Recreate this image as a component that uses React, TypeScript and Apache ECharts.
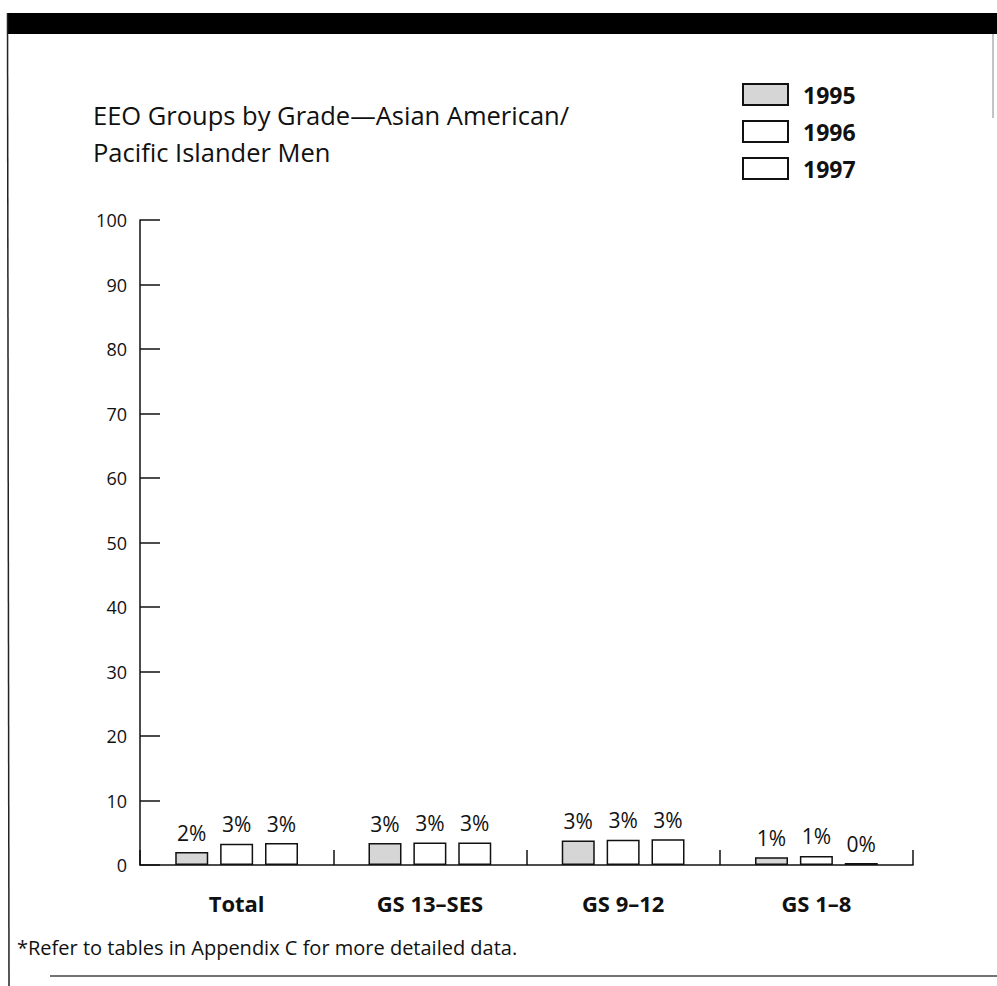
import React, { useEffect, useRef } from "react";
import * as echarts from "echarts";

const categories = ["Total", "GS 13–SES", "GS 9–12", "GS 1–8"];
const years = ["1995", "1996", "1997"];
const values1995 = [2.0, 3.4, 3.8, 1.2];
const values1996 = [3.3, 3.5, 3.9, 1.4];
const values1997 = [3.4, 3.5, 4.0, 0.3];
const labels1995 = ["2%", "3%", "3%", "1%"];
const labels1996 = ["3%", "3%", "3%", "1%"];
const labels1997 = ["3%", "3%", "3%", "0%"];
const yTicks = { min: 0, max: 100, interval: 10 };

const FONT = "'Open Sans', Lato, sans-serif";

export default function App() {
  const ref = useRef<HTMLDivElement>(null);
  useEffect(() => {
    if (!ref.current) return;
    const chart = echarts.init(ref.current, undefined, { renderer: "svg" });
    const fills = ["#d6d6d6", "#ffffff", "#ffffff"];
    const seriesData = [values1995, values1996, values1997];
    const seriesLabels = [labels1995, labels1996, labels1997];
    chart.setOption({
      animation: false,
      backgroundColor: "#ffffff",
      textStyle: { fontFamily: FONT },
      grid: { left: 140, top: 220, width: 773, height: 645, containLabel: false },
      legend: {
        orient: "vertical",
        left: 737,
        top: 78,
        itemWidth: 45,
        itemHeight: 21,
        itemGap: 14,
        icon: "rect",
        data: years,
        textStyle: { fontFamily: FONT, fontSize: 23, fontWeight: "bold", color: "#111", padding: [0, 0, 0, 10] },
      },
      xAxis: {
        type: "category",
        data: categories,
        boundaryGap: true,
        axisLine: { show: true, lineStyle: { color: "#111", width: 1.5 } },
        axisTick: { show: true, inside: true, length: 15, interval: 0, lineStyle: { color: "#111", width: 1.5 } },
        axisLabel: { margin: 27, fontFamily: FONT, fontSize: 22, fontWeight: "bold", color: "#111" },
        splitLine: { show: false },
      },
      yAxis: {
        type: "value",
        min: yTicks.min,
        max: yTicks.max,
        interval: yTicks.interval,
        axisLine: { show: true, lineStyle: { color: "#111", width: 1.5 } },
        axisTick: { show: true, inside: true, length: 20, lineStyle: { color: "#111", width: 1.5 } },
        axisLabel: { margin: 13, fontFamily: FONT, fontSize: 18, color: "#111" },
        splitLine: { show: false },
      },
      series: years.map((y, i) => ({
        name: y,
        type: "bar",
        data: seriesData[i],
        barWidth: 33,
        barGap: "36%",
        itemStyle: { color: fills[i], borderColor: "#111", borderWidth: 1.5 },
        label: {
          show: true,
          position: "top",
          distance: 9,
          fontFamily: FONT,
          fontSize: 21,
          color: "#111",
          formatter: (p: any) => seriesLabels[i][p.dataIndex],
        },
      })),
      graphic: [
        { type: "rect", shape: { x: 7, y: 13, width: 990, height: 21 }, style: { fill: "#000" } },
        { type: "line", shape: { x1: 7.5, y1: 13, x2: 9, y2: 986 }, style: { stroke: "#222", lineWidth: 1.5 } },
        { type: "line", shape: { x1: 50, y1: 976, x2: 997, y2: 976 }, style: { stroke: "#444", lineWidth: 1.5 } },
        { type: "line", shape: { x1: 993, y1: 34, x2: 993, y2: 118 }, style: { stroke: "#888", lineWidth: 1 } },
        {
          type: "text",
          left: 93,
          top: 96,
          style: {
            text: "EEO Groups by Grade—Asian American/\nPacific Islander Men",
            fontFamily: FONT,
            fontSize: 25.5,
            lineHeight: 37,
            fill: "#111",
          },
        },
        {
          type: "text",
          left: 17,
          top: 937,
          style: {
            text: "*Refer to tables in Appendix C for more detailed data.",
            fontFamily: FONT,
            fontSize: 20,
            fill: "#111",
          },
        },
      ],
    });
    return () => chart.dispose();
  }, []);
  return <div ref={ref} style={{ position: "fixed", left: 0, top: 0, width: 997, height: 986 }} />;
}
